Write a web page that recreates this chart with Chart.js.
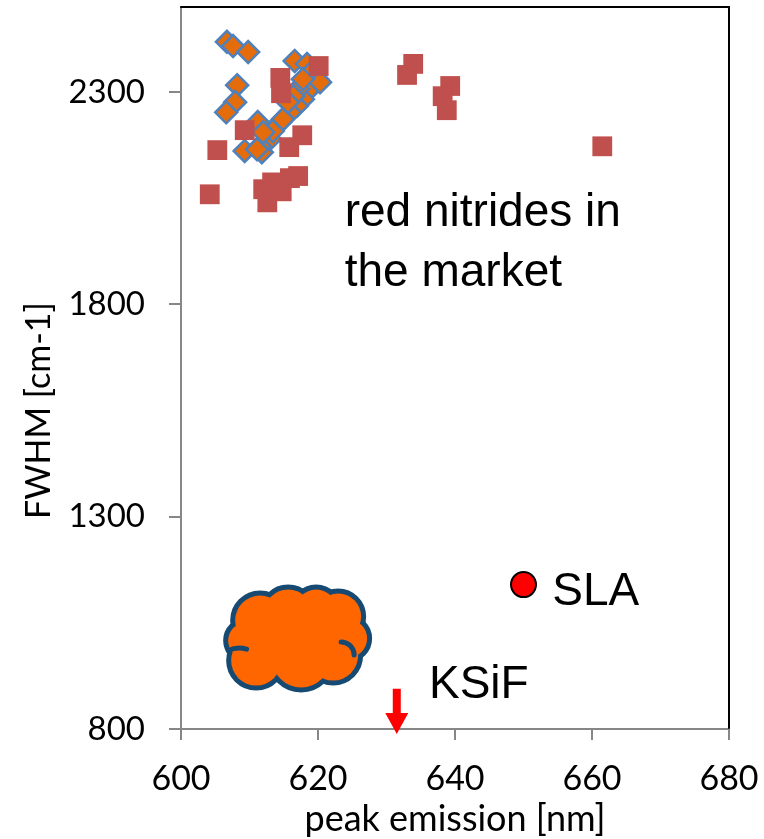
<!DOCTYPE html>
<html><head><meta charset="utf-8">
<script src="https://cdn.jsdelivr.net/npm/chart.js@4/dist/chart.umd.min.js"></script>
<style>html,body{margin:0;padding:0;background:#fff}#wrap{width:764px;height:839px}</style>
</head><body><div id="wrap"><canvas id="c" width="764" height="839"></canvas></div>
<script>
// ---- data ----
const nitridePeak = [620.1, 614.5, 614.6, 609.3, 605.3, 617.7, 615.8, 617.1, 615.9, 613.3, 612.0, 614.7, 604.2, 612.6, 633.9, 633.0, 639.3, 638.2, 638.8, 661.5];
const nitrideFwhm = [2361, 2333, 2297, 2210, 2163, 2198, 2170, 2102, 2097, 2087, 2071, 2066, 2059, 2040, 2366, 2340, 2314, 2290, 2257, 2172];
const diamondPeak = [606.7, 607.6, 609.8, 608.2, 607.9, 606.6, 611.2, 609.3, 611.8, 614.5, 613.0, 611.5, 616.6, 618.4, 619.1, 619.9, 618.8, 617.8, 616.9, 615.9, 614.9, 617.1, 616.4, 615.6, 620.3, 617.8, 613.4, 612.0, 611.1];
const diamondFwhm = [2418, 2408, 2394, 2316, 2276, 2252, 2229, 2161, 2158, 2229, 2189, 2172, 2373, 2366, 2347, 2330, 2307, 2283, 2267, 2252, 2236, 2307, 2290, 2276, 2323, 2330, 2208, 2205, 2165];
const slaPeak = [650];
const slaFwhm = [1140];
const ksifPeak = 631.5;
const xTicks = [600, 620, 640, 660, 680];
const yTicks = [800, 1300, 1800, 2300];

// ---- annotation geometry (data units) ----
const cloud = {x: 617.1, y: 1013, w: 21.6, h: 252};
const arrow = {x: ksifPeak, from: 895, to: 788};
const texts = [
  {t: 'red nitrides in', x: 623.9, y: 1984},
  {t: 'the market', x: 623.9, y: 1842},
  {t: 'SLA', x: 654.2, y: 1092},
  {t: 'KSiF', x: 636.2, y: 873}
];

const FONT = 'Lato, "Liberation Sans", sans-serif';

// cloud lobes in a 148 x 107 reference box: [dx, dy, outerRadius]
const cloudLobes = [
  [-52, 2, 23], [-42, 22, 30], [3, 20, 34], [35, 17, 30], [50, 0, 24],
  [40, -22, 28], [18, -28, 26], [-10, -25, 29], [-38, -18, 30], [0, 0, 45]
];
// inner arcs: [dx, dy, r, startAngle/PI, endAngle/PI]
const cloudArcs = [
  [43, 16.5, 13, 1.5, 2.0], [-59, 33.5, 24, 1.35, 1.6]
];

const overlay = {
  id: 'overlay',
  afterDatasetsDraw(chart) {
    const {ctx, chartArea: a, scales: {x, y}} = chart;
    ctx.save();
    // cloud
    const cx = x.getPixelForValue(cloud.x), cy = y.getPixelForValue(cloud.y);
    const W = Math.abs(x.getPixelForValue(cloud.x + cloud.w / 2) - x.getPixelForValue(cloud.x - cloud.w / 2));
    const H = Math.abs(y.getPixelForValue(cloud.y + cloud.h / 2) - y.getPixelForValue(cloud.y - cloud.h / 2));
    const sx = W / 148, sy = H / 107;
    const bw = 5;
    const circ = (l) => { ctx.beginPath(); ctx.arc(cx + l[0] * sx, cy + l[1] * sy, Math.max(2, l[2] * sx - bw), 0, Math.PI * 2); };
    ctx.strokeStyle = '#174a72'; ctx.lineWidth = bw * 2;
    cloudLobes.forEach(l => { circ(l); ctx.stroke(); });
    ctx.fillStyle = '#FF6600';
    cloudLobes.forEach(l => { circ(l); ctx.fill(); });
    ctx.lineWidth = bw; ctx.lineCap = 'round';
    cloudArcs.forEach(l => {
      ctx.beginPath();
      ctx.arc(cx + l[0] * sx, cy + l[1] * sy, l[2] * sx, l[3] * Math.PI, l[4] * Math.PI);
      ctx.stroke();
    });
    // arrow
    const ax = x.getPixelForValue(arrow.x), y0 = y.getPixelForValue(arrow.from), y1 = y.getPixelForValue(arrow.to);
    ctx.fillStyle = '#FF0000';
    ctx.beginPath();
    ctx.moveTo(ax - 4, y0); ctx.lineTo(ax + 4, y0); ctx.lineTo(ax + 4, y1 - 21);
    ctx.lineTo(ax + 11.5, y1 - 21); ctx.lineTo(ax, y1); ctx.lineTo(ax - 11.5, y1 - 21);
    ctx.lineTo(ax - 4, y1 - 21); ctx.closePath(); ctx.fill();
    // texts
    ctx.fillStyle = '#000';
    ctx.font = '46px "Liberation Sans", Arial, sans-serif';
    ctx.textAlign = 'left'; ctx.textBaseline = 'alphabetic';
    texts.forEach(t => ctx.fillText(t.t, x.getPixelForValue(t.x), y.getPixelForValue(t.y)));
    // frame top & right
    ctx.strokeStyle = '#000'; ctx.lineWidth = 2;
    ctx.beginPath();
    ctx.moveTo(a.left, a.top); ctx.lineTo(a.right, a.top); ctx.lineTo(a.right, a.bottom - 1);
    ctx.stroke();
    ctx.restore();
  }
};

new Chart(document.getElementById('c'), {
  type: 'scatter',
  data: {
    datasets: [
      {
        label: 'red nitrides',
        data: nitridePeak.map((v, i) => ({x: v, y: nitrideFwhm[i]})),
        pointStyle: 'rect', pointRadius: 14, pointHoverRadius: 14,
        backgroundColor: '#C0504D', borderColor: '#C0504D', borderWidth: 0
      },
      {
        label: 'nitrides 2',
        data: diamondPeak.map((v, i) => ({x: v, y: diamondFwhm[i]})),
        pointStyle: 'rectRot', pointRadius: 11, pointHoverRadius: 11,
        backgroundColor: '#E46C0A', borderColor: '#4F81BD', borderWidth: 2.5
      },
      {
        label: 'SLA',
        data: slaPeak.map((v, i) => ({x: v, y: slaFwhm[i]})),
        pointStyle: 'circle', pointRadius: 12.5, pointHoverRadius: 12.5,
        backgroundColor: '#FF0000', borderColor: '#000', borderWidth: 2
      }
    ]
  },
  options: {
    responsive: false, devicePixelRatio: 1, animation: false,
    layout: {autoPadding: false, padding: {top: 7, right: 35, left: 0, bottom: 0}},
    plugins: {legend: {display: false}, tooltip: {enabled: false}},
    clip: false,
    scales: {
      x: {
        type: 'linear', min: 600, max: 680,
        afterBuildTicks: s => { s.ticks = xTicks.map(v => ({value: v})); },
        afterFit: s => { s.height = 110; s.paddingLeft = 0; s.paddingRight = 0; },
        ticks: {font: {family: FONT, size: 34}, color: '#000', padding: 19, maxRotation: 0, callback: v => String(v)},
        grid: {drawOnChartArea: false, tickLength: 11, color: '#878787', lineWidth: 2},
        border: {color: '#878787', width: 2},
        title: {display: true, text: 'peak emission [nm]', font: {family: FONT, size: 36}, color: '#000', padding: {top: 0, bottom: -2}}
      },
      y: {
        type: 'linear', min: 800, max: 2500,
        afterBuildTicks: s => { s.ticks = yTicks.map(v => ({value: v})); },
        afterFit: s => { s.width = 181; s.paddingTop = 0; s.paddingBottom = 0; },
        ticks: {font: {family: FONT, size: 33}, color: '#000', padding: 24, callback: v => String(v)},
        grid: {drawOnChartArea: false, tickLength: 12, color: '#878787', lineWidth: 2},
        border: {color: '#878787', width: 2},
        title: {display: true, text: 'FWHM [cm-1]\u2003\u2003\u2002\u2002', font: {family: FONT, size: 34}, color: '#000', padding: {top: 19, bottom: 0}}
      }
    }
  },
  plugins: [overlay]
});
</script>
</body></html>
